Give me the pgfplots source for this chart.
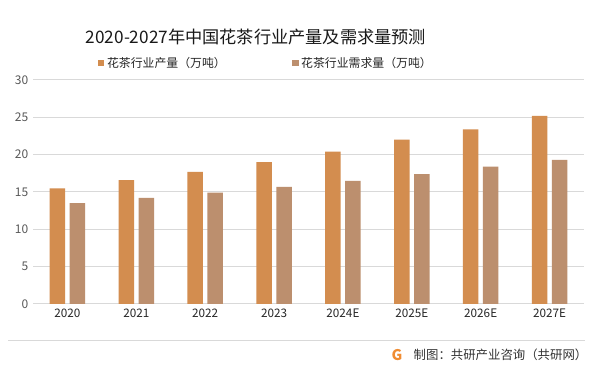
\documentclass[border=0pt]{standalone}
\usepackage{fontspec}
\setmainfont{Noto Sans CJK SC}
\usepackage{pgfplots}
\pgfplotsset{compat=1.18}
\definecolor{prodc}{RGB}{211,141,79}
\definecolor{demc}{RGB}{188,143,110}
\definecolor{gridc}{RGB}{217,217,217}
\definecolor{tickc}{RGB}{89,89,89}
\definecolor{logoc}{RGB}{240,140,50}
\begin{document}
\begin{tikzpicture}[x=0.75pt,y=0.75pt]
\path[use as bounding box, fill=white] (0,0) rectangle (600,373);
\begin{axis}[
  at={(24.75pt,51.75pt)}, anchor=south west,
  scale only axis, width=413.25pt, height=168pt,
  ybar, bar width=11.6pt, ybar=3.4pt,
  xmin=-0.5, xmax=7.5, ymin=0, ymax=30,
  ytick={0,5,...,30},
  xtick=data,
  xticklabels={2020,2021,2022,2023,2024E,2025E,2026E,2027E},
  ymajorgrids, grid style={color=gridc, line width=0.75pt},
  axis x line*=bottom, axis y line*=left,
  y axis line style={draw=none},
  x axis line style={color=gridc, line width=0.75pt},
  xtick style={draw=none}, ytick style={draw=none},
  /pgf/number format/assume math mode=true,
  yticklabel style={font=\fontsize{9}{10}\selectfont, color=tickc},
  xticklabel style={font=\fontsize{8.8}{10}\selectfont, color=black!85},
  xtick pos=bottom,
  major tick length=0pt,
  legend columns=2,
  legend style={draw=none, fill=none, at={(0.118,1.076)}, anchor=west,
    font=\fontsize{8.9}{10}\selectfont, text=black!85,
    /tikz/every even column/.append style={column sep=48pt},
    inner sep=0pt},
  legend image code/.code={\fill[#1] (0pt,-2.3pt) rectangle (4.6pt,2.3pt);},
]
\addplot[fill=prodc, draw=none] coordinates {(0,15.5) (1,16.6) (2,17.7) (3,19.0) (4,20.4) (5,22.0) (6,23.4) (7,25.2)};
\addlegendentry{花茶行业产量（万吨）}
\addplot[fill=demc, draw=none] coordinates {(0,13.5) (1,14.2) (2,14.9) (3,15.7) (4,16.5) (5,17.4) (6,18.4) (7,19.3)};
\addlegendentry{花茶行业需求量（万吨）}
\end{axis}
\node[font=\fontsize{12.9}{15}\selectfont, text=black!90] at (256,336) {2020-2027年中国花茶行业产量及需求量预测};
\draw[color=gridc, line width=0.75pt] (8,32) -- (585,32);
\node[font=\bfseries\fontsize{11}{12}\selectfont, text=logoc] at (397,18) {G};
\node[font=\fontsize{9.3}{10}\selectfont, text=black!80, anchor=west] at (409,18) {制图：共研产业咨询（共研网）};
\end{tikzpicture}
\end{document}
